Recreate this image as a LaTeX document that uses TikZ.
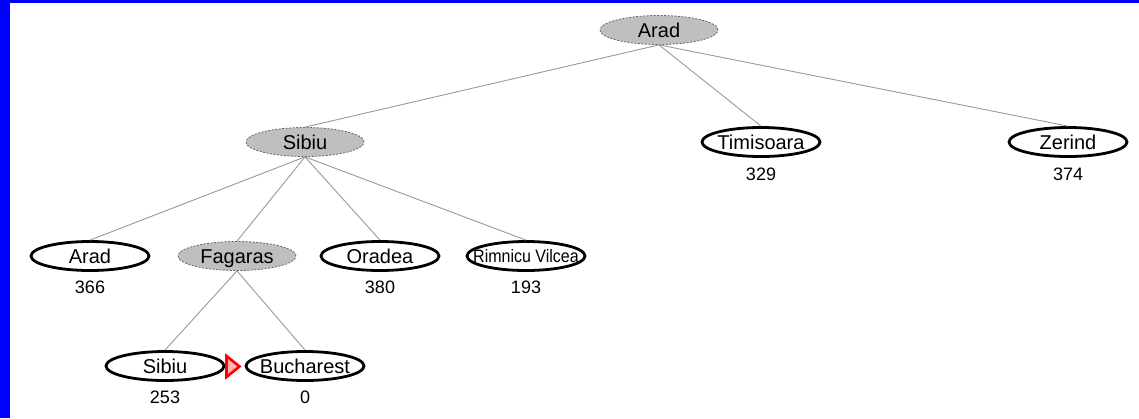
\documentclass[tikz,border=0pt]{standalone}
\usepackage{fontspec}
\setmainfont{Liberation Sans}
\usetikzlibrary{shapes.geometric}
\newcommand{\nm}[1]{\makebox[40pt][c]{#1}}
\tikzset{
  city/.style={draw,ellipse,line width=2.8pt,minimum width=118pt,minimum height=29pt,inner sep=0pt,text height=14.3pt,text depth=0pt,font=\fontsize{20}{22}\selectfont},
  done/.style={city,draw=gray!80!black,line width=0.8pt,dashed,dash pattern=on 2pt off 1.5pt,fill=gray!50},
  hval/.style={font=\fontsize{18}{20}\selectfont},
  edge/.style={draw=gray!80,line width=0.9pt}
}
\begin{document}
\begin{tikzpicture}[x=1pt,y=-1pt]
            \useasboundingbox (0,0) rectangle (1139,418);
            \fill[blue] (0,0) rectangle (10,418);
            \fill[blue] (0,0) rectangle (1139,3);

            \node[done] (A) at (659, 30) {\nm{Arad}};
            \node[done] (B) at (305, 142) {\nm{Sibiu}};
            \node[city] (C) at (761, 142) {\nm{Timisoara}};
            \node[city] (D) at (1068, 142) {\nm{Zerind}};
            \node[city] (E) at (90, 256) {\nm{Arad}};
            \node[done] (F) at (237, 256) {\nm{Fagaras}};
            \node[city] (G) at (380, 256) {\nm{Oradea}};
            \node[city] (H) at (526, 256) {\nm{\raisebox{1pt}{\scalebox{0.8}[0.9]{Rimnicu Vilcea}}}};
            \node[city] (I) at (165, 366) {\nm{Sibiu}};
            \node[city] (J) at (305, 366) {\nm{Bucharest}};

            \node[hval] (hC) at (761, 174) {329};
            \node[hval] (hD) at (1068, 174) {374};
            \node[hval] (hE) at (90, 287) {366};
            \node[hval] (hG) at (380, 287) {380};
            \node[hval] (hH) at (526, 287) {193};
            \node[hval] (hI) at (165, 397) {253};
            \node[hval] (hJ) at (305, 397) {0};

            \draw[edge] (A.south) -- (B.north);
            \draw[edge] (A.south) -- (C.north);
            \draw[edge] (A.south) -- (D.north);
            \draw[edge] (B.south) -- (E.north);
            \draw[edge] (B.south) -- (F.north);
            \draw[edge] (B.south) -- (G.north);
            \draw[edge] (B.south) -- (H.north);
            \draw[edge] (F.south) -- (I.north);
            \draw[edge] (F.south) -- (J.north);

            \draw[red,line width=2.6pt,fill=red!30,line join=miter] (226.5,356) -- (239.5,366.5) -- (226.5,377) -- cycle;
        \end{tikzpicture}
\end{document}
